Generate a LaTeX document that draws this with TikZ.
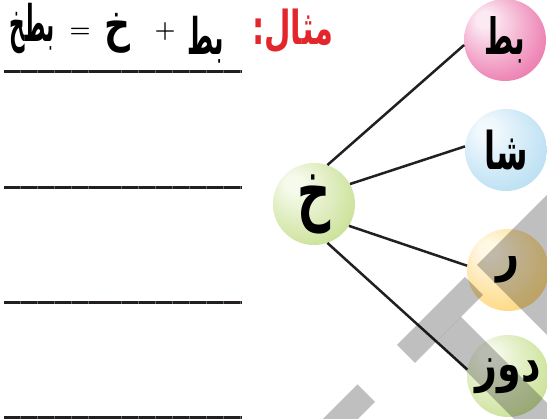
\documentclass[tikz,border=0pt]{standalone}
\usepackage{fontspec}
\usepackage{graphicx}
\TeXXeTstate=1
\newfontfamily\arabicfont[Script=Arabic]{DejaVu Sans}
\definecolor{urdured}{HTML}{E3262B}
\definecolor{ink}{HTML}{231F20}
\definecolor{rulegap}{HTML}{6A6A6A}
\definecolor{pinkhi}{HTML}{FCEAF2}
\definecolor{pinkmid}{HTML}{EE86B6}
\definecolor{pinkout}{HTML}{E24E96}
\definecolor{bluehi}{HTML}{F2F9FD}
\definecolor{bluemid}{HTML}{C0E2F4}
\definecolor{blueout}{HTML}{8DC8E9}
\definecolor{orghi}{HTML}{FFF8E4}
\definecolor{orgmid}{HTML}{FDDB8A}
\definecolor{orgout}{HTML}{F7BF48}
\definecolor{grnhi}{HTML}{F6FAEC}
\definecolor{grnmid}{HTML}{CFE4A0}
\definecolor{grnout}{HTML}{9EC655}
\newcommand\mkballshade[4]{\pgfdeclareradialshading{#1}{\pgfpoint{-14bp}{14bp}}{color(0bp)=(#2); color(5bp)=(#2); color(30bp)=(#3); color(50bp)=(#4)}}
\mkballshade{pinkball}{pinkhi}{pinkmid}{pinkout}
\mkballshade{blueball}{bluehi}{bluemid}{blueout}
\mkballshade{orgball}{orghi}{orgmid}{orgout}
\mkballshade{grnball}{grnhi}{grnmid}{grnout}
\newcommand\urd[3]{\scalebox{#1}[#2]{\beginR #3\endR}}
\tikzset{
  ball/.style={circle, minimum size=82pt, inner sep=0pt,
    font=\arabicfont\bfseries\fontsize{40}{40}\selectfont},
  conn/.style={line width=2.5pt, draw=ink},
  urdu/.style={font=\arabicfont\bfseries\fontsize{36}{40}\selectfont, inner sep=0pt},
  sign/.style={font=\bfseries\fontsize{24}{28}\selectfont, inner sep=0pt},
  rulebase/.style={line width=3pt, draw=rulegap},
  ruletop/.style={line width=3pt, draw=ink, dash pattern=on 16pt off 0.9pt},
  wm/.style={fill=black, fill opacity=0.25}
}
\begin{document}
\begin{tikzpicture}[x=1pt,y=-1pt]
\useasboundingbox (0,0) rectangle (547,419);
\clip (0,0) rectangle (547,419);
\fill[white] (0,0) rectangle (547,419);

% title
\node[urdu, text=urdured] (mithal) at (293,31) {\urd{0.85}{1.3}{مثال:}};
\node[urdu] (bt0) at (206,40) {\urd{0.7}{1.4}{بط}};
\node[sign] (plus) at (165,32) {+};
\node[urdu] (kh0) at (117,33) {\urd{1}{1.35}{خ}};
\node[sign] (eq) at (80,33) {=};
\node[urdu] (btkh) at (32,29) {\urd{0.6}{1.4}{بطخ}};

% answer rules
\foreach \yy/\nm in {72/r1,187.5/r2,303/r3,417.5/r4}{
  \coordinate (\nm a) at (4,\yy);
  \coordinate (\nm b) at (241,\yy);
  \draw[rulebase] (\nm a) -- (\nm b);
  \draw[ruletop] (\nm a) -- (\nm b);
}

% circles
\node[ball, shading=grnball] (c) at (314,204) {\urd{1.15}{1.8}{خ}};
\node[ball, shading=pinkball] (p) at (505,40) {\urd{0.7}{1.25}{بط}};
\node[ball, shading=blueball] (b) at (506,150) {\urd{0.8}{1.3}{شا}};
\node[ball, shading=orgball] (o) at (508,270) {\urd{1}{1.3}{ر}};
\node[ball, shading=grnball] (g) at (508,376) {\urd{0.95}{1.25}{دوز}};

% connectors
\draw[conn] (c.71) -- (p.187);
\draw[conn] (c.29) -- (b.175);
\draw[conn] (c.-32) -- (o.174);
\draw[conn] (c.-71) -- (g.171);

% watermark
\fill[wm] (357.5,384.5) -- (375,402) -- (263.5,513.5) -- (246,496) -- cycle;
\fill[wm] (397,345) -- (415,363) -- (483,295) -- (465,277) -- cycle;
\fill[wm] (436.5,341.5) -- (461,317) -- (572,428) -- (547.5,452.5) -- cycle;
\fill[wm] (477,265) -- (571,171) -- (700,300) -- (606,394) -- cycle;
\end{tikzpicture}
\end{document}
